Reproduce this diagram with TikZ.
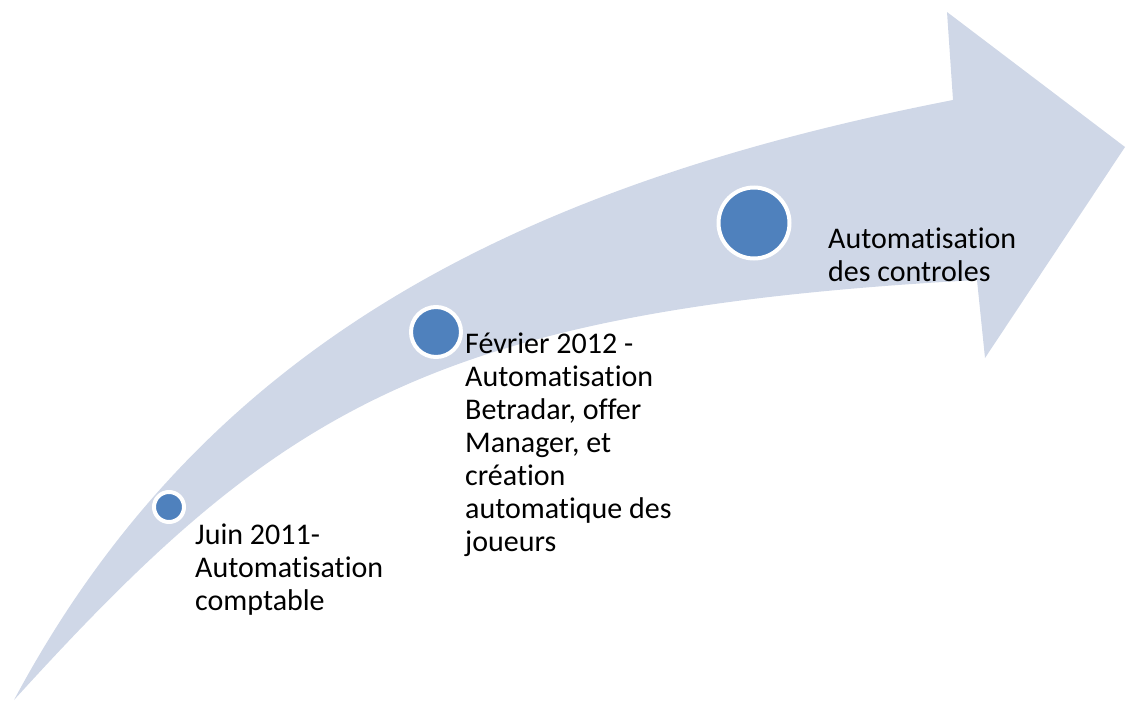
\documentclass[tikz,border=0pt]{standalone}
\usepackage{fontspec}
\setmainfont{Carlito}[Ligatures=NoCommon]
\usetikzlibrary{positioning}
\definecolor{bandfill}{HTML}{CFD7E7}
\definecolor{dotfill}{HTML}{4F81BD}

\begin{document}
\begin{tikzpicture}[x=1pt, y=-1pt, node distance=2cm]
	\tikzstyle{dot}=[circle,fill=dotfill,draw=white,line width=4pt,inner sep=0pt]
	\tikzstyle{lbl}=[align=left,inner sep=0pt,text=black,font=\fontsize{30}{33}\selectfont]
	\useasboundingbox (0,0) rectangle (1127,704);
	% the curved arrow
	\fill[bandfill] (14,700) .. controls (202,348) and (512,186) .. (953,100)
		-- (947,12) -- (1125,147) -- (985,358) -- (977,280)
		.. controls (427,310) and (276,412) .. cycle;
	\node[dot,minimum size=30pt]  (d1) at (169,507) {};
	\node[dot,minimum size=50pt]  (d2) at (436,332) {};
	\node[dot,minimum size=71pt]  (d3) at (754,223) {};
	% labels, pinned at the baseline of their last line
	\node[lbl,below right=103pt and 26pt of d1.center,anchor=base west]   (t1) {Juin 2011-\\Automatisation\\comptable};
	\node[lbl,below right=219pt and 29pt of d2.center,anchor=base west]   (t2) {Février 2012 -\\Automatisation\\Betradar, offer\\Manager, et\\création\\automatique des\\joueurs};
	\node[lbl,below right=58pt and 74pt of d3.center,anchor=base west]    (t3) {Automatisation\\des controles};
\end{tikzpicture}
\end{document}
